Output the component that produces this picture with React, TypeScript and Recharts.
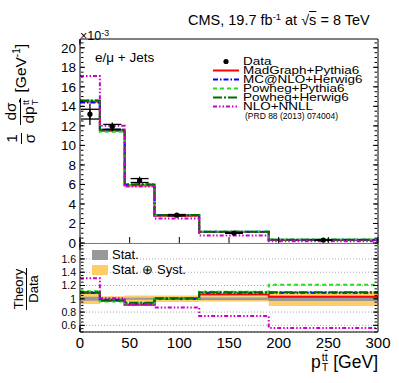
import React from 'react';
import { ComposedChart, Line, Area, Scatter, ErrorBar, XAxis, YAxis, CartesianGrid } from 'recharts';

const FONT = '"Liberation Sans", Arial, Helvetica, sans-serif';

// ---- data (x10^-3 GeV^-1) ----
const binEdges = [0, 20, 45, 75, 120, 190, 300];
const binCenters = [10, 32.5, 60, 97.5, 155, 245];
const dataValues = [13.2, 11.9, 6.4, 2.85, 1.02, 0.3];
const dataStatErr = [0.5, 0.25, 0.2, 0.07, 0.03, 0.012];
const dataTotErr = [1.1, 0.45, 0.4, 0.15, 0.07, 0.035];
const madgraph = [14.5, 11.5, 5.9, 2.8, 1.12, 0.32];
const mcatnlo = [14.4, 11.6, 6.0, 2.85, 1.15, 0.34];
const powhegPythia = [14.6, 11.4, 5.95, 2.85, 1.16, 0.37];
const powhegHerwig = [14.6, 11.6, 6.0, 2.88, 1.15, 0.34];
const nloNnll = [17.1, 12.0, 5.8, 2.5, 0.78, 0.17];

// ---- ratio theory / data ----
const ratioMadgraph = [1.09, 0.97, 0.91, 1.0, 1.065, 1.03];
const ratioMcatnlo = [1.09, 0.98, 0.93, 1.0, 1.09, 1.09];
const ratioPowhegPythia = [1.115, 0.96, 0.93, 1.0, 1.105, 1.21];
const ratioPowhegHerwig = [1.1, 0.975, 0.94, 1.01, 1.1, 1.1];
const ratioNloNnll = [1.31, 1.01, 0.91, 0.87, 0.74, 0.56];
const ratioStatErr = [0.03, 0.015, 0.015, 0.02, 0.02, 0.035];
const ratioTotErr = [0.08, 0.04, 0.05, 0.05, 0.04, 0.11];

// ---- ticks ----
const xTicks = [0, 50, 100, 150, 200, 250, 300];
const xMinorTicks = [0, 10, 20, 30, 40, 50, 60, 70, 80, 90, 100, 110, 120, 130, 140, 150, 160, 170, 180, 190, 200, 210, 220, 230, 240, 250, 260, 270, 280, 290, 300];
const mainYTicks = [0, 2, 4, 6, 8, 10, 12, 14, 16, 18, 20];
const mainYMinorTicks = [0, 0.5, 1, 1.5, 2, 2.5, 3, 3.5, 4, 4.5, 5, 5.5, 6, 6.5, 7, 7.5, 8, 8.5, 9, 9.5, 10, 10.5, 11, 11.5, 12, 12.5, 13, 13.5, 14, 14.5, 15, 15.5, 16, 16.5, 17, 17.5, 18, 18.5, 19, 19.5, 20, 20.5];
const ratioYTicks = [0.6, 0.8, 1, 1.2, 1.4, 1.6];
const ratioYMinorTicks = [0.5, 0.55, 0.6, 0.65, 0.7, 0.75, 0.8, 0.85, 0.9, 0.95, 1, 1.05, 1.1, 1.15, 1.2, 1.25, 1.3, 1.35, 1.4, 1.45, 1.5, 1.55, 1.6, 1.65, 1.7, 1.75, 1.8];

const MAIN_DOMAIN: [number, number] = [0, 20.9];
const RATIO_DOMAIN: [number, number] = [0.5, 1.84];
const X_DOMAIN: [number, number] = [0, 300];

const idx = (i: number) => Math.min(i, binCenters.length - 1);

const mainRows = binEdges.map((x, i) => ({
  x,
  mg: madgraph[idx(i)],
  mc: mcatnlo[idx(i)],
  pp: powhegPythia[idx(i)],
  ph: powhegHerwig[idx(i)],
  nn: nloNnll[idx(i)],
}));

const ratioRows = binEdges.map((x, i) => ({
  x,
  mg: ratioMadgraph[idx(i)],
  mc: ratioMcatnlo[idx(i)],
  pp: ratioPowhegPythia[idx(i)],
  ph: ratioPowhegHerwig[idx(i)],
  nn: ratioNloNnll[idx(i)],
  stat: [1 - ratioStatErr[idx(i)], 1 + ratioStatErr[idx(i)]],
  tot: [1 - ratioTotErr[idx(i)], 1 + ratioTotErr[idx(i)]],
}));

const dataPoints = binCenters.map((x, i) => ({
  x,
  y: dataValues[i],
  es: dataStatErr[i],
  et: dataTotErr[i],
}));

const SERIES = [
  { key: 'mg', name: 'MadGraph+Pythia6', color: '#ff0000', dash: undefined as string | undefined },
  { key: 'mc', name: 'MC@NLO+Herwig6', color: '#0000ff', dash: '5 2 1.5 2' },
  { key: 'pp', name: 'Powheg+Pythia6', color: '#22dd22', dash: '4 3' },
  { key: 'ph', name: 'Powheg+Herwig6', color: '#006a00', dash: '9 2 2 2' },
  { key: 'nn', name: 'NLO+NNLL', color: '#cc00cc', dash: '4 2 1.5 2 1.5 2' },
];

const emptyTick = () => <g />;

function frameAxes(prefix: string, yDomain: [number, number], yMajor: number[], yMinor: number[], xl: number, yl: number) {
  const common = { stroke: '#000', tick: emptyTick, interval: 0 as const, allowDataOverflow: true };
  return [
    <XAxis key={prefix + 'bm'} xAxisId={prefix + 'bm'} type="number" domain={X_DOMAIN} ticks={xMinorTicks} orientation="bottom" mirror height={1} tickSize={xl / 2} axisLine={false} {...common} />,
    <XAxis key={prefix + 'tM'} xAxisId={prefix + 'tM'} type="number" domain={X_DOMAIN} ticks={xTicks} orientation="top" mirror height={1} tickSize={xl} axisLine={{ stroke: '#000' }} {...common} />,
    <XAxis key={prefix + 'tm'} xAxisId={prefix + 'tm'} type="number" domain={X_DOMAIN} ticks={xMinorTicks} orientation="top" mirror height={1} tickSize={xl / 2} axisLine={false} {...common} />,
    <YAxis key={prefix + 'lM'} yAxisId={prefix + 'lM'} type="number" domain={yDomain} ticks={yMajor} orientation="left" mirror width={1} tickSize={yl} axisLine={false} {...common} />,
    <YAxis key={prefix + 'lm'} yAxisId={prefix + 'lm'} type="number" domain={yDomain} ticks={yMinor} orientation="left" mirror width={1} tickSize={yl / 2} axisLine={false} {...common} />,
    <YAxis key={prefix + 'rM'} yAxisId={prefix + 'rM'} type="number" domain={yDomain} ticks={yMajor} orientation="right" mirror width={1} tickSize={yl} axisLine={{ stroke: '#000' }} {...common} />,
    <YAxis key={prefix + 'rm'} yAxisId={prefix + 'rm'} type="number" domain={yDomain} ticks={yMinor} orientation="right" mirror width={1} tickSize={yl / 2} axisLine={false} {...common} />,
  ];
}

const seriesLines = () =>
  SERIES.map((s) => (
    <Line
      key={s.key}
      dataKey={s.key}
      type="stepAfter"
      stroke={s.color}
      strokeWidth={2}
      strokeDasharray={s.dash}
      dot={false}
      activeDot={false}
      isAnimationActive={false}
    />
  ));

const TBar = () => (
  <span>
    t<span style={{ textDecoration: 'overline' }}>t</span>
  </span>
);

const Frac = ({ num, den }: { num: React.ReactNode; den: React.ReactNode }) => (
  <span style={{ display: 'inline-flex', flexDirection: 'column', alignItems: 'center', verticalAlign: 'middle', margin: '0 2px' }}>
    <span style={{ lineHeight: 1.05, padding: '0 1px' }}>{num}</span>
    <span style={{ borderTop: '1px solid #000', lineHeight: 1.05, padding: '0 1px', alignSelf: 'stretch', textAlign: 'center' }}>{den}</span>
  </span>
);

const SubSup = ({ sub, sup }: { sub: React.ReactNode; sup: React.ReactNode }) => (
  <span style={{ display: 'inline-flex', flexDirection: 'column', fontSize: '0.62em', lineHeight: 0.95, verticalAlign: 'middle', marginLeft: 1 }}>
    <span>{sup}</span>
    <span>{sub}</span>
  </span>
);

const legendIcon = (s: (typeof SERIES)[number]) => (
  <svg width={28} height={9} style={{ display: 'block' }}>
    <line x1={1} y1={4.5} x2={27} y2={4.5} stroke={s.color} strokeWidth={2} strokeDasharray={s.dash} />
  </svg>
);

export default function App() {
  const legendRows = [
    { y: 61.5, icon: (
      <svg width={28} height={9} style={{ display: 'block' }}>
        <circle cx={14} cy={4.5} r={2.6} fill="#000" />
      </svg>
    ), text: 'Data' },
    ...SERIES.map((s, i) => ({ y: 70.5 + i * 8.9, icon: legendIcon(s), text: s.name })),
  ];

  return (
    <div style={{ position: 'absolute', left: 0, top: 0, width: 399, height: 383, background: '#fff', fontFamily: FONT, color: '#000', overflow: 'hidden' }}>
      {/* main panel */}
      <div style={{ position: 'absolute', left: 0, top: 0 }}>
        <ComposedChart width={399} height={252} data={mainRows} margin={{ top: 39, right: 21, bottom: 9, left: 40 }}>
          <XAxis dataKey="x" type="number" domain={X_DOMAIN} ticks={xTicks} orientation="bottom" mirror height={1} tick={emptyTick} tickSize={6} interval={0} stroke="#000" axisLine={false} allowDataOverflow />
          <YAxis type="number" domain={MAIN_DOMAIN} ticks={mainYTicks} width={40} tickLine={false} tickSize={0} tickMargin={4} interval={0} stroke="#000" axisLine={{ stroke: '#000' }} tick={{ fill: '#000', fontSize: 13.5, fontFamily: FONT }} allowDataOverflow />
          {frameAxes('m', MAIN_DOMAIN, mainYTicks, mainYMinorTicks, 6, 5)}
          {seriesLines()}
          <Scatter data={dataPoints} dataKey="y" fill="#000" isAnimationActive={false} shape={(p: any) => <circle cx={p.cx} cy={p.cy} r={2.6} fill="#000" />}>
            <ErrorBar dataKey="et" direction="y" width={0} stroke="#000" strokeWidth={1.3} isAnimationActive={false} />
            <ErrorBar dataKey="es" direction="y" width={9} stroke="#000" strokeWidth={1.3} isAnimationActive={false} />
          </Scatter>
        </ComposedChart>
      </div>

      {/* ratio panel */}
      <div style={{ position: 'absolute', left: 0, top: 243 }}>
        <ComposedChart width={399} height={119} data={ratioRows} margin={{ top: 0, right: 21, bottom: 0, left: 40 }}>
          <CartesianGrid horizontal vertical={false} stroke="#aaa" strokeDasharray="1 2" />
          <XAxis dataKey="x" type="number" domain={X_DOMAIN} ticks={xTicks} height={30} tickLine={false} tickSize={0} tickMargin={5} interval={0} stroke="#000" axisLine={{ stroke: '#000' }} tick={{ fill: '#000', fontSize: 15, fontFamily: FONT }} allowDataOverflow />
          <YAxis type="number" domain={RATIO_DOMAIN} ticks={ratioYTicks} width={40} tickLine={false} tickSize={0} tickMargin={4} interval={0} stroke="#000" axisLine={{ stroke: '#000' }} tick={{ fill: '#000', fontSize: 10.5, fontFamily: FONT }} tickFormatter={(v: number) => (v === 1 ? '1' : v.toFixed(1))} allowDataOverflow />
          <XAxis xAxisId="rbM" type="number" domain={X_DOMAIN} ticks={xTicks} orientation="bottom" mirror height={1} tick={emptyTick} tickSize={7} interval={0} stroke="#000" axisLine={false} allowDataOverflow />
          {frameAxes('r', RATIO_DOMAIN, ratioYTicks, ratioYMinorTicks, 7, 5)}
          <Area dataKey="tot" type="stepAfter" fill="#ffcc66" fillOpacity={1} stroke="none" isAnimationActive={false} />
          <Area dataKey="stat" type="stepAfter" fill="#999999" fillOpacity={1} stroke="none" isAnimationActive={false} />
          {seriesLines()}
        </ComposedChart>
      </div>

      {/* header */}
      <div style={{ position: 'absolute', left: 188, top: 9, fontSize: 14.5, whiteSpace: 'nowrap', lineHeight: '16px' }}>
        CMS, 19.7 fb<sup style={{ fontSize: '0.65em', verticalAlign: '0.55em' }}>-1</sup> at √<span style={{ textDecoration: 'overline' }}>s</span> = 8 TeV
      </div>
      <div style={{ position: 'absolute', left: 80, top: 26, fontSize: 12.5, whiteSpace: 'nowrap', lineHeight: '14px' }}>
        ×10<sup style={{ fontSize: '0.7em', verticalAlign: '0.5em' }}>-3</sup>
      </div>
      <div style={{ position: 'absolute', left: 95, top: 51, fontSize: 13.5, whiteSpace: 'nowrap', lineHeight: '14px' }}>
        e/μ + Jets
      </div>

      {/* legend */}
      {legendRows.map((r) => (
        <div key={r.text} style={{ position: 'absolute', left: 212, top: r.y - 4.5, height: 9, display: 'flex', alignItems: 'center', whiteSpace: 'nowrap', fontSize: 11.5, lineHeight: '9px' }}>
          {r.icon}
          <span style={{ marginLeft: 3, display: 'inline-block', transform: 'scaleX(1.17)', transformOrigin: 'left center' }}>{r.text}</span>
        </div>
      ))}
      <div style={{ position: 'absolute', left: 245, top: 112, fontSize: 8.5, whiteSpace: 'nowrap', lineHeight: '9px' }}>
        (PRD 88 (2013) 074004)
      </div>

      {/* ratio legend */}
      <div style={{ position: 'absolute', left: 92, top: 250, width: 16, height: 10, background: '#999999' }} />
      <div style={{ position: 'absolute', left: 112, top: 248, fontSize: 13, lineHeight: '14px', whiteSpace: 'nowrap' }}>Stat.</div>
      <div style={{ position: 'absolute', left: 92, top: 265, width: 16, height: 10, background: '#ffcc66' }} />
      <div style={{ position: 'absolute', left: 112, top: 263, fontSize: 13, lineHeight: '14px', whiteSpace: 'nowrap' }}>Stat. ⊕ Syst.</div>

      {/* y title main */}
      <div style={{ position: 'absolute', left: 21 - 75, top: 95 - 20, width: 150, height: 40, display: 'flex', alignItems: 'center', justifyContent: 'center', transform: 'rotate(-90deg)', fontSize: 15.5, whiteSpace: 'nowrap' }}>
        <Frac num="1" den="σ" />
        <span style={{ width: 4 }} />
        <Frac num="dσ" den={<span>dp<SubSup sub="T" sup={<TBar />} /></span>} />
        <span style={{ marginLeft: 4 }}>
          [GeV<sup style={{ fontSize: '0.65em', verticalAlign: '0.6em' }}>-1</sup>]
        </span>
      </div>

      {/* y title ratio */}
      <div style={{ position: 'absolute', left: 26 - 40, top: 289 - 20, width: 80, height: 40, display: 'flex', alignItems: 'center', justifyContent: 'center', transform: 'rotate(-90deg)', fontSize: 13, whiteSpace: 'nowrap' }}>
        <Frac num="Theory" den="Data" />
      </div>

      {/* x title */}
      <div style={{ position: 'absolute', right: 399 - 378, top: 352, fontSize: 17.5, whiteSpace: 'nowrap', lineHeight: '20px', display: 'flex', alignItems: 'center' }}>
        p<SubSup sub="T" sup={<TBar />} />
        <span style={{ marginLeft: 5 }}>[GeV]</span>
      </div>
    </div>
  );
}
